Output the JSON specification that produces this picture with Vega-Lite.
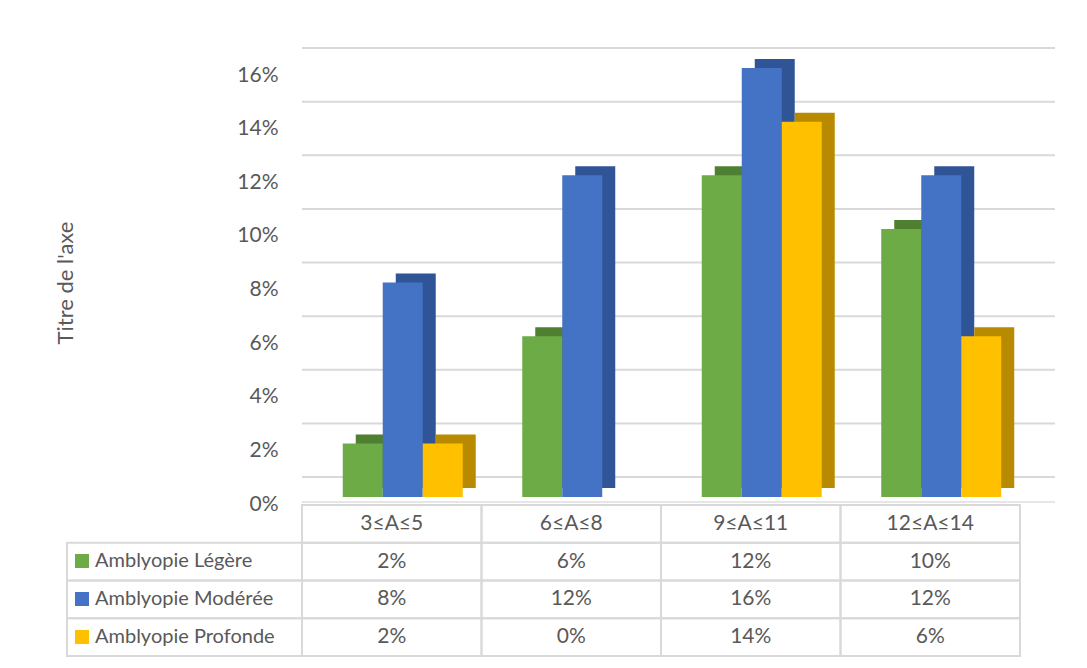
{
  "$schema": "https://vega.github.io/schema/vega-lite/v6.json",
  "background": "white",
  "padding": {"left": 54, "top": 47, "right": 5, "bottom": 5},
  "config": {"view": {"stroke": null}, "font": "Lato"},
  "datasets": {
    "main": [
      {"cat": "3≤A≤5", "series": "Amblyopie Légère", "value": 0.02},
      {"cat": "6≤A≤8", "series": "Amblyopie Légère", "value": 0.06},
      {"cat": "9≤A≤11", "series": "Amblyopie Légère", "value": 0.12},
      {"cat": "12≤A≤14", "series": "Amblyopie Légère", "value": 0.10},
      {"cat": "3≤A≤5", "series": "Amblyopie Modérée", "value": 0.08},
      {"cat": "6≤A≤8", "series": "Amblyopie Modérée", "value": 0.12},
      {"cat": "9≤A≤11", "series": "Amblyopie Modérée", "value": 0.16},
      {"cat": "12≤A≤14", "series": "Amblyopie Modérée", "value": 0.12},
      {"cat": "3≤A≤5", "series": "Amblyopie Profonde", "value": 0.02},
      {"cat": "6≤A≤8", "series": "Amblyopie Profonde", "value": 0.00},
      {"cat": "9≤A≤11", "series": "Amblyopie Profonde", "value": 0.14},
      {"cat": "12≤A≤14", "series": "Amblyopie Profonde", "value": 0.06}
    ],
    "grid": [
      {"v": 0}, {"v": 0.02}, {"v": 0.04}, {"v": 0.06}, {"v": 0.08},
      {"v": 0.10}, {"v": 0.12}, {"v": 0.14}, {"v": 0.16}
    ]
  },
  "columns": 2,
  "spacing": {"row": 8, "column": 0},
  "bounds": "flush",
  "concat": [
    {
      "width": 235,
      "height": 429,
      "data": {"values": []},
      "mark": "rect",
      "encoding": {}
    },
    {
      "width": 753,
      "height": 429,
      "resolve": {"scale": {"x": "independent", "xOffset": "independent"}},
      "layer": [
        {
          "data": {"name": "grid"},
          "mark": {"type": "rule", "color": "#d9d9d9", "strokeWidth": 2, "yOffset": -20},
          "encoding": {
            "y": {
              "field": "v", "type": "quantitative",
              "scale": {"domain": [0, 0.16], "nice": false},
              "axis": {
                "values": [0, 0.02, 0.04, 0.06, 0.08, 0.10, 0.12, 0.14, 0.16],
                "format": ".0%",
                "grid": false, "domain": false, "ticks": false,
                "labelPadding": 24, "labelOffset": 7,
                "labelFont": "Lato", "labelFontSize": 21, "labelColor": "#595959",
                "title": "Titre de l'axe",
                "titleFont": "Lato", "titleFontSize": 22, "titleFontWeight": "normal", "titleColor": "#595959",
                "minExtent": 200, "maxExtent": 200, "titlePadding": 25
              }
            }
          }
        },
        {
          "data": {"name": "grid"},
          "transform": [{"filter": "datum.v == 0"}],
          "mark": {"type": "rule", "color": "#e6e6e6", "strokeWidth": 2, "yOffset": 5},
          "encoding": {"y": {"field": "v", "type": "quantitative"}}
        },
        {
          "data": {"name": "main"},
          "mark": {"type": "bar", "yOffset": -9, "y2Offset": -9},
          "encoding": {
            "x": {"field": "cat", "type": "nominal", "sort": ["3≤A≤5", "6≤A≤8", "9≤A≤11", "12≤A≤14"], "scale": {"paddingInner": 0, "paddingOuter": 0, "range": [24, 742]}, "axis": null},
            "xOffset": {"field": "series", "type": "nominal", "sort": ["Amblyopie Légère", "Amblyopie Modérée", "Amblyopie Profonde"], "scale": {"paddingInner": 0, "paddingOuter": 0.744}},
            "y": {"field": "value", "type": "quantitative"},
            "fill": {"field": "series", "type": "nominal", "scale": {"domain": ["Amblyopie Profonde", "Amblyopie Modérée", "Amblyopie Légère"], "range": ["#b88a00", "#2f5597", "#4f7f31"]}, "legend": null}
          }
        },
        {
          "data": {"name": "main"},
          "mark": {"type": "bar"},
          "encoding": {
            "x": {"field": "cat", "type": "nominal", "sort": ["3≤A≤5", "6≤A≤8", "9≤A≤11", "12≤A≤14"], "scale": {"paddingInner": 0, "paddingOuter": 0, "range": [11, 729]}, "axis": null},
            "xOffset": {"field": "series", "type": "nominal", "sort": ["Amblyopie Légère", "Amblyopie Modérée", "Amblyopie Profonde"], "scale": {"paddingInner": 0, "paddingOuter": 0.744}},
            "y": {"field": "value", "type": "quantitative"},
            "color": {
              "field": "series", "type": "nominal",
              "scale": {"domain": ["Amblyopie Légère", "Amblyopie Modérée", "Amblyopie Profonde"], "range": ["#6cab45", "#4472c4", "#ffc000"]},
              "legend": {
                "orient": "none", "legendX": 5, "legendY": 483,
                "title": null, "symbolType": "square", "symbolSize": 196, "symbolStrokeWidth": 0,
                "labelFont": "Lato", "labelFontSize": 20, "labelColor": "#595959", "labelLimit": 300,
                "rowPadding": 18, "labelOffset": 3
              }
            }
          }
        }
      ]
    },
    {
      "width": 235,
      "height": 151,
      "data": {"name": "main"},
      "transform": [{"filter": "datum.cat == '3≤A≤5'"}],
      "mark": {"type": "rect", "fill": "transparent", "stroke": "#d9d9d9", "strokeWidth": 2},
      "encoding": {
        "y": {"field": "series", "type": "nominal", "scale": {"domain": ["hdr", "Amblyopie Légère", "Amblyopie Modérée", "Amblyopie Profonde"], "paddingInner": 0, "paddingOuter": 0}, "axis": null}
      }
    },
    {
      "width": 718,
      "height": 151,
      "data": {"name": "main"},
      "encoding": {
        "x": {"field": "cat", "type": "nominal", "sort": ["3≤A≤5", "6≤A≤8", "9≤A≤11", "12≤A≤14"], "scale": {"paddingInner": 0, "paddingOuter": 0}, "axis": null}
      },
      "layer": [
        {
          "mark": {"type": "rect", "fill": "transparent", "stroke": "#d9d9d9", "strokeWidth": 2},
          "encoding": {
            "y": {"field": "series", "type": "nominal", "scale": {"domain": ["hdr", "Amblyopie Légère", "Amblyopie Modérée", "Amblyopie Profonde"], "paddingInner": 0, "paddingOuter": 0}, "axis": null}
          }
        },
        {
          "transform": [{"filter": "datum.series == 'Amblyopie Légère'"}],
          "mark": {"type": "rect", "fill": "transparent", "stroke": "#d9d9d9", "strokeWidth": 2},
          "encoding": {"y": {"datum": "hdr", "type": "nominal"}}
        },
        {
          "mark": {"type": "text", "font": "Lato", "fontSize": 21, "color": "#595959"},
          "encoding": {
            "y": {"field": "series", "type": "nominal"},
            "text": {"field": "value", "type": "quantitative", "format": ".0%"}
          }
        },
        {
          "transform": [{"filter": "datum.series == 'Amblyopie Légère'"}],
          "mark": {"type": "text", "font": "Lato", "fontSize": 21, "color": "#595959"},
          "encoding": {
            "y": {"datum": "hdr", "type": "nominal"},
            "text": {"field": "cat", "type": "nominal"}
          }
        }
      ]
    }
  ]
}
